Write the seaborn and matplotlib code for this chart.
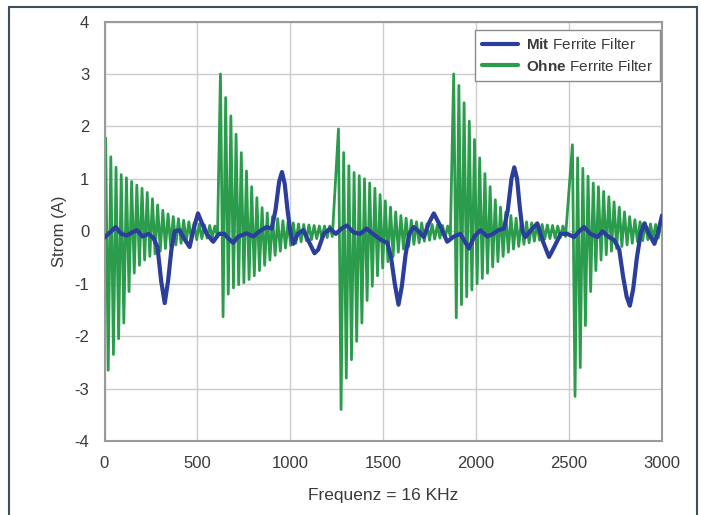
import matplotlib
matplotlib.use("Agg")
import matplotlib.pyplot as plt
import seaborn as sns
import pandas as pd
from matplotlib.patches import Rectangle

# ---- measured current, "Ohne Ferrite Filter": ringing bursts ----
# each burst: successive positive peaks and negative troughs of the ringing
burst_starts = [6, 624, 1259, 1879, 2518]
ring_period = 28

ohne_peaks_1 = [1.78, 1.42, 1.22, 1.08, 1.02, 0.95, 0.88, 0.82, 0.74, 0.62, 0.5,
                0.4, 0.33, 0.28, 0.24, 0.21, 0.18, 0.16, 0.14, 0.12, 0.11, 0.1]
ohne_troughs_1 = [-2.65, -2.35, -2.05, -1.75, -1.15, -0.8, -0.65, -0.55, -0.48, -0.43, -0.38,
                  -0.33, -0.29, -0.26, -0.23, -0.2, -0.18, -0.16, -0.14, -0.13, -0.12, -0.1]

ohne_peaks_2 = [3.0, 2.55, 2.2, 1.85, 1.5, 1.15, 0.85, 0.64, 0.45, 0.35, 0.28,
                0.24, 0.2, 0.18, 0.16, 0.14, 0.13, 0.12, 0.11, 0.1, 0.1, 0.1]
ohne_troughs_2 = [-1.63, -1.2, -1.08, -1.02, -0.98, -0.92, -0.85, -0.75, -0.65, -0.55, -0.46,
                  -0.38, -0.32, -0.27, -0.23, -0.2, -0.18, -0.16, -0.14, -0.13, -0.12, -0.1]

ohne_peaks_3 = [1.95, 1.5, 1.25, 1.12, 1.06, 1.0, 0.92, 0.82, 0.7, 0.58, 0.46,
                0.37, 0.3, 0.25, 0.21, 0.18, 0.16, 0.14, 0.13, 0.12, 0.11, 0.1]
ohne_troughs_3 = [-3.4, -2.8, -2.45, -2.1, -1.75, -1.32, -1.05, -0.85, -0.7, -0.58, -0.48,
                  -0.4, -0.34, -0.29, -0.25, -0.22, -0.19, -0.17, -0.15, -0.13, -0.12, -0.1]

ohne_peaks_4 = [3.0, 2.78, 2.45, 2.1, 1.75, 1.4, 1.1, 0.85, 0.6, 0.46, 0.36,
                0.3, 0.25, 0.21, 0.18, 0.16, 0.14, 0.13, 0.12, 0.11, 0.1, 0.1]
ohne_troughs_4 = [-1.65, -1.4, -1.25, -1.12, -1.0, -0.9, -0.8, -0.68, -0.58, -0.48, -0.4,
                  -0.34, -0.29, -0.25, -0.22, -0.19, -0.17, -0.15, -0.14, -0.13, -0.12, -0.1]

ohne_peaks_5 = [1.65, 1.4, 1.2, 1.05, 0.92, 0.85, 0.76, 0.66, 0.56, 0.46, 0.37,
                0.28, 0.22, 0.18, 0.16, 0.14, 0.13, 0.12]
ohne_troughs_5 = [-3.15, -2.6, -1.8, -1.15, -0.75, -0.55, -0.45, -0.38, -0.33, -0.29, -0.26,
                  -0.23, -0.2, -0.18, -0.16, -0.14, -0.13, -0.12]

ohne_peaks = [ohne_peaks_1, ohne_peaks_2, ohne_peaks_3, ohne_peaks_4, ohne_peaks_5]
ohne_troughs = [ohne_troughs_1, ohne_troughs_2, ohne_troughs_3, ohne_troughs_4, ohne_troughs_5]

# ---- measured current, "Mit Ferrite Filter" ----
mit_x = [0, 30, 60, 90, 120, 150, 175, 205, 235, 262, 285, 305, 324, 342, 360, 378,
         405, 430, 458, 480, 503, 525, 550, 585, 615, 645, 670, 692, 720, 764, 800,
         835, 872, 900, 920, 940, 955, 970, 985, 1000, 1016, 1040, 1070, 1100, 1130,
         1150, 1180, 1214, 1245, 1275, 1304, 1340, 1376, 1410, 1445, 1490, 1522, 1542,
         1562, 1582, 1600, 1620, 1640, 1664, 1690, 1718, 1745, 1772, 1800, 1844, 1880,
         1915, 1940, 1961, 1990, 2023, 2060, 2090, 2120, 2150, 2170, 2190, 2205, 2220,
         2235, 2250, 2265, 2290, 2329, 2360, 2392, 2420, 2455, 2490, 2527, 2555, 2581,
         2615, 2653, 2680, 2710, 2743, 2770, 2790, 2810, 2827, 2845, 2865, 2885, 2905,
         2930, 2959, 2980, 3000]
mit_y = [-0.12, -0.02, 0.08, -0.05, -0.08, -0.02, 0.02, -0.1, -0.05, -0.12, -0.3, -0.95,
         -1.37, -0.95, -0.35, 0.0, 0.02, -0.15, -0.3, 0.05, 0.34, 0.15, -0.05, -0.2, -0.05,
         -0.05, -0.15, -0.22, -0.1, -0.04, -0.1, 0.0, 0.08, 0.05, 0.4, 0.95, 1.13, 0.9,
         0.4, 0.0, -0.24, -0.05, 0.02, -0.2, -0.42, -0.35, -0.05, 0.05, -0.05, 0.05, 0.11,
         -0.02, -0.05, 0.05, -0.05, -0.17, -0.22, -0.5, -1.0, -1.4, -1.05, -0.45, -0.05,
         0.08, 0.0, -0.11, 0.15, 0.34, 0.15, -0.2, -0.1, -0.05, -0.2, -0.33, -0.1, 0.02,
         -0.1, -0.05, 0.02, 0.05, 0.4, 1.0, 1.22, 1.0, 0.45, 0.0, -0.11, 0.0, 0.15, -0.2,
         -0.49, -0.3, -0.05, -0.05, -0.11, 0.0, 0.08, -0.05, -0.11, 0.0, -0.1, -0.17,
         -0.35, -0.85, -1.25, -1.42, -1.1, -0.5, -0.05, 0.15, -0.05, -0.24, 0.0, 0.3]

x_ticks = [0, 500, 1000, 1500, 2000, 2500, 3000]
y_ticks = [-4, -3, -2, -1, 0, 1, 2, 3, 4]

# assemble the ringing trace: peak then trough for every cycle of each burst
ohne_x, ohne_y = [], []
for start, peaks, troughs in zip(burst_starts, ohne_peaks, ohne_troughs):
    for k, (p, t) in enumerate(zip(peaks, troughs)):
        ohne_x.append(start + k * ring_period)
        ohne_y.append(p)
        ohne_x.append(start + k * ring_period + ring_period / 2)
        ohne_y.append(t)

ohne_df = pd.DataFrame({"Frequenz": ohne_x, "Strom": ohne_y})
mit_df = pd.DataFrame({"Frequenz": mit_x, "Strom": mit_y})

sns.set_style("white")
plt.rcParams["font.family"] = ["Liberation Sans", "DejaVu Sans"]
plt.rcParams["axes.unicode_minus"] = False
plt.rcParams["mathtext.fontset"] = "custom"
plt.rcParams["mathtext.rm"] = "Liberation Sans"
plt.rcParams["mathtext.bf"] = "Liberation Sans:bold"

text_color = "#3a3a3a"
green = "#2b9c4c"
blue = "#2c3e9c"

fig = plt.figure(figsize=(7.01, 5.15), dpi=100)
ax = fig.add_axes([104.5 / 701, 1 - 441 / 515, 557.5 / 701, 419.5 / 515])

sns.lineplot(data=ohne_df, x="Frequenz", y="Strom", sort=False, estimator=None,
             color=green, linewidth=2.0, ax=ax,
             label=r"$\mathbf{Ohne}$ Ferrite Filter", zorder=2)
sns.lineplot(data=mit_df, x="Frequenz", y="Strom", sort=False, estimator=None,
             color=blue, linewidth=3.0, ax=ax,
             label=r"$\mathbf{Mit}$ Ferrite Filter", zorder=3)

ax.set_xlim(0, 3000)
ax.set_ylim(-4, 4)
ax.set_xticks(x_ticks)
ax.set_yticks(y_ticks)
ax.set_xticklabels([str(v) for v in x_ticks])
ax.set_yticklabels([str(v) for v in y_ticks])
ax.tick_params(axis="both", length=0, pad=11, labelsize=12, labelcolor=text_color)
ax.grid(True, color="#cccccc", linewidth=1.0, zorder=0)
ax.set_axisbelow(True)
for s in ax.spines.values():
    s.set_color("#9a9a9a")
    s.set_linewidth(1.5)

ax.set_xlabel("Frequenz = 16 KHz", fontsize=12.5, color=text_color, labelpad=12)
ax.set_ylabel("Strom (A)", fontsize=12, color=text_color, labelpad=5)

handles, labels = ax.get_legend_handles_labels()
leg = ax.legend(handles[::-1], labels[::-1], loc="upper right",
                bbox_to_anchor=(0.9964, 0.9797), borderaxespad=0,
                fontsize=11, handlelength=2.4, handletextpad=0.5,
                labelspacing=0.45, borderpad=0.45, fancybox=False,
                framealpha=1, edgecolor="#8a8a8a")
leg.get_frame().set_linewidth(1.0)
for t in leg.get_texts():
    t.set_color(text_color)
for h in leg.get_lines():
    h.set_linewidth(3)

# outer frame around the figure
fig.patches.append(Rectangle((9.3 / 701, -0.05), (696.7 - 9.3) / 701, 1.05 - 6.7 / 515,
                             transform=fig.transFigure, fill=False,
                             edgecolor="#3e4e5e", linewidth=1.5))

fig.savefig("out.png", dpi=100)
